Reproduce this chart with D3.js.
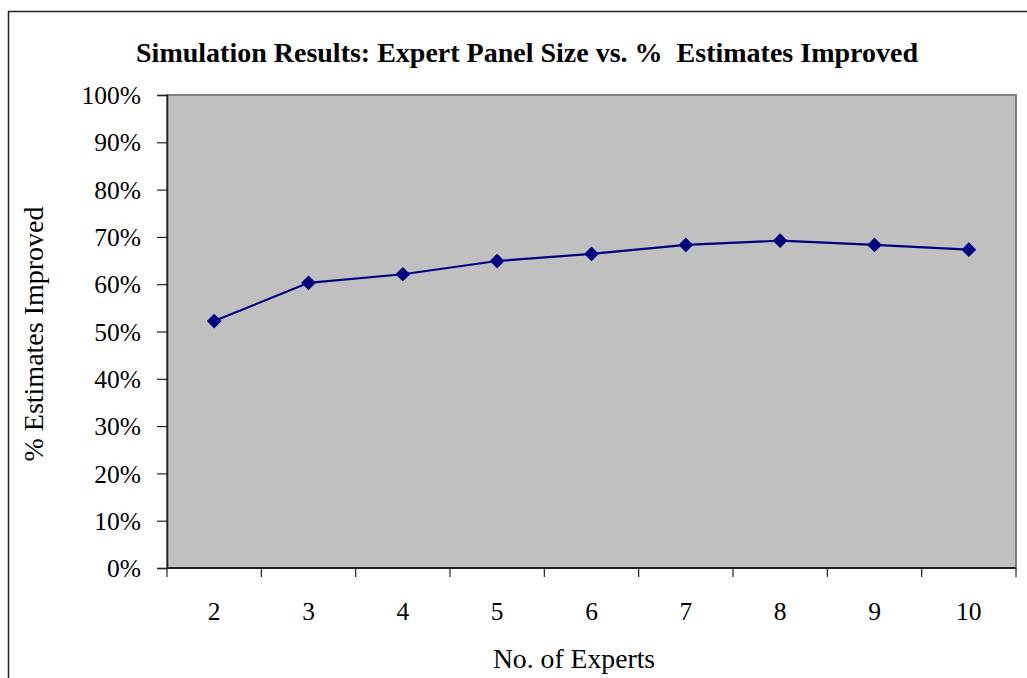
<!DOCTYPE html>
<html>
<head>
<meta charset="utf-8">
<script src="https://cdn.jsdelivr.net/npm/d3@7"></script>
<style>
  html, body { margin: 0; padding: 0; background: #ffffff; }
  svg { display: block; }
  text { font-family: "Liberation Serif", "Times New Roman", serif; fill: #000; }
</style>
</head>
<body>
<svg id="chart" width="1027" height="678"></svg>
<script>
// Panel size categories and the share of estimates improved (%)
const panelSizes = ["2", "3", "4", "5", "6", "7", "8", "9", "10"];
const pctImproved = [52.2, 60.3, 62.1, 64.9, 66.4, 68.3, 69.2, 68.3, 67.3];
const yTickValues = [0, 10, 20, 30, 40, 50, 60, 70, 80, 90, 100];

const chartTitle = "Simulation Results: Expert Panel Size vs. %  Estimates Improved";
const xTitle = "No. of Experts";
const yTitle = "% Estimates Improved";

const svg = d3.select("#chart");

// Chart frame (extends past the right and bottom edges)
svg.append("rect")
  .attr("x", 8.5).attr("y", 11.5)
  .attr("width", 1060).attr("height", 700)
  .attr("fill", "#fff").attr("stroke", "#222").attr("stroke-width", 1.5);

const plot = { left: 167, top: 95, right: 1016, bottom: 568 };

const x = d3.scaleBand().domain(panelSizes).range([plot.left, plot.right]);
const y = d3.scaleLinear().domain([0, 100]).range([plot.bottom, plot.top]);

// Plot area
svg.append("rect")
  .attr("x", plot.left).attr("y", plot.top)
  .attr("width", plot.right - plot.left).attr("height", plot.bottom - plot.top)
  .attr("fill", "#C0C0C0").attr("stroke", "#808080").attr("stroke-width", 2);

// Y axis
const yAxis = svg.append("g")
  .attr("transform", `translate(${plot.left},0)`)
  .call(d3.axisLeft(y).tickValues(yTickValues).tickSize(10).tickPadding(16)
    .tickFormat(d => d + "%"));
yAxis.select(".domain").attr("stroke", "#222").attr("stroke-width", 1.5);
yAxis.selectAll(".tick line").attr("stroke", "#222").attr("stroke-width", 1.2);
yAxis.selectAll("text")
  .style("font-family", '"Liberation Serif", "Times New Roman", serif')
  .style("font-size", "25.5px").attr("fill", "#000").attr("dy", "0.34em");

// X axis: ticks sit on category boundaries, labels centred in each band
const xAxisG = svg.append("g").attr("transform", `translate(0,${plot.bottom})`);
xAxisG.append("line")
  .attr("x1", plot.left).attr("x2", plot.right)
  .attr("stroke", "#222").attr("stroke-width", 2);
const boundaries = panelSizes.map(d => x(d)).concat([x(panelSizes[panelSizes.length - 1]) + x.bandwidth()]);
xAxisG.selectAll(".xtick").data(boundaries).join("line")
  .attr("class", "xtick")
  .attr("x1", d => d).attr("x2", d => d)
  .attr("y1", 0).attr("y2", 9)
  .attr("stroke", "#222").attr("stroke-width", 1.2);
xAxisG.selectAll(".xlabel").data(panelSizes).join("text")
  .attr("class", "xlabel")
  .attr("x", d => x(d) + x.bandwidth() / 2)
  .attr("y", 52)
  .attr("text-anchor", "middle")
  .style("font-size", "25.5px")
  .text(d => d);

// Series line and diamond markers
const line = d3.line()
  .x((d, i) => x(panelSizes[i]) + x.bandwidth() / 2)
  .y(d => y(d));

svg.append("path")
  .datum(pctImproved)
  .attr("d", line)
  .attr("fill", "none")
  .attr("stroke", "#000080")
  .attr("stroke-width", 2.2);

svg.selectAll(".marker").data(pctImproved).join("path")
  .attr("class", "marker")
  .attr("transform", (d, i) => `translate(${x(panelSizes[i]) + x.bandwidth() / 2},${y(d)}) rotate(45)`)
  .attr("d", "M-5.2,-5.2H5.2V5.2H-5.2Z")
  .attr("fill", "#000080");

// Titles
svg.append("text")
  .attr("x", 527).attr("y", 62)
  .attr("text-anchor", "middle")
  .style("font-size", "28px").style("font-weight", "bold")
  .style("white-space", "pre")
  .text(chartTitle);

svg.append("text")
  .attr("x", 574).attr("y", 668)
  .attr("text-anchor", "middle")
  .style("font-size", "27.7px")
  .text(xTitle);

svg.append("text")
  .attr("transform", "translate(43,334) rotate(-90)")
  .attr("text-anchor", "middle")
  .style("font-size", "28px")
  .text(yTitle);
</script>
</body>
</html>
